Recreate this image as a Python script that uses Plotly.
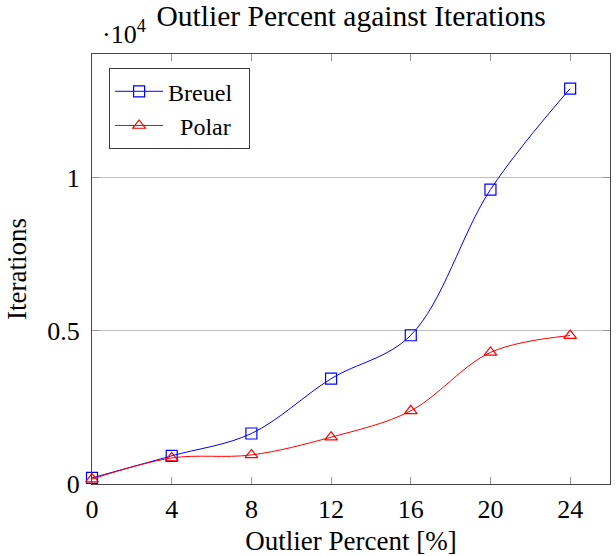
import plotly.graph_objects as go

outlier_percent = [0, 4, 8, 12, 16, 20, 24]
breuel_iterations = [200, 920, 1650, 3440, 4860, 9620, 12920]
polar_iterations = [160, 850, 950, 1530, 2390, 4300, 4850]

y_tickvals = [0, 5000, 10000]
y_ticktext = ["0", "0.5", "1"]
x_tickvals = [0, 4, 8, 12, 16, 20, 24]

FONT = "Liberation Serif"
FS = 26

fig = go.Figure()
fig.add_trace(go.Scatter(
    x=outlier_percent, y=breuel_iterations, name="Breuel&#8199;",
    mode="lines+markers",
    line=dict(color="rgb(0,0,255)", width=1, shape="spline", smoothing=1.0),
    marker=dict(symbol="square-open", size=11, color="rgb(0,0,255)", line=dict(width=1.2)),
    cliponaxis=False,
))
fig.add_trace(go.Scatter(
    x=outlier_percent, y=polar_iterations, name="&#8199;Polar",
    mode="lines+markers",
    line=dict(color="rgb(255,0,0)", width=1, shape="spline", smoothing=1.0),
    marker=dict(symbol="triangle-up-open", size=11, color="rgb(255,0,0)", line=dict(width=1.2)),
    cliponaxis=False,
))

fig.update_layout(
    width=616, height=556,
    margin=dict(l=92, r=6, t=54, b=72),
    paper_bgcolor="white", plot_bgcolor="white",
    font=dict(family=FONT, size=FS, color="black"),
    title=dict(text="Outlier Percent against Iterations", x=0.57, xanchor="center",
               y=0.972, yanchor="middle", font=dict(family=FONT, size=29.5)),
    showlegend=True,
    legend=dict(x=0.033, y=0.967, xanchor="left", yanchor="top",
                bgcolor="white", bordercolor="rgb(60,60,60)", borderwidth=1,
                font=dict(family=FONT, size=24), tracegroupgap=0,
                itemwidth=48),
    xaxis=dict(range=[0, 26], tickvals=x_tickvals, ticks="inside", ticklen=7,
               tickcolor="rgb(150,150,150)", showline=True, linecolor="rgb(70,70,70)",
               linewidth=1.2, mirror="ticks", showgrid=False, zeroline=False,
               ticklabelstandoff=2,
               title=dict(text="Outlier Percent [%]", standoff=7,
                          font=dict(family=FONT, size=27)),
               tickfont=dict(family=FONT, size=FS)),
    yaxis=dict(range=[0, 14050], tickvals=y_tickvals, ticktext=y_ticktext,
               ticks="inside", ticklen=7, tickcolor="rgb(150,150,150)",
               showline=True, linecolor="rgb(70,70,70)", linewidth=1.2,
               mirror="ticks", showgrid=True, gridcolor="rgb(190,190,190)",
               gridwidth=1, zeroline=False, ticklabelstandoff=6,
               title=dict(text="Iterations", standoff=12,
                          font=dict(family=FONT, size=27)),
               tickfont=dict(family=FONT, size=FS)),
    annotations=[dict(text="·10<sup>4</sup>", x=0.015, y=1.008, xref="paper", yref="paper",
                      xanchor="left", yanchor="bottom", showarrow=False,
                      font=dict(family=FONT, size=FS))],
)

fig.write_html("out.html")
